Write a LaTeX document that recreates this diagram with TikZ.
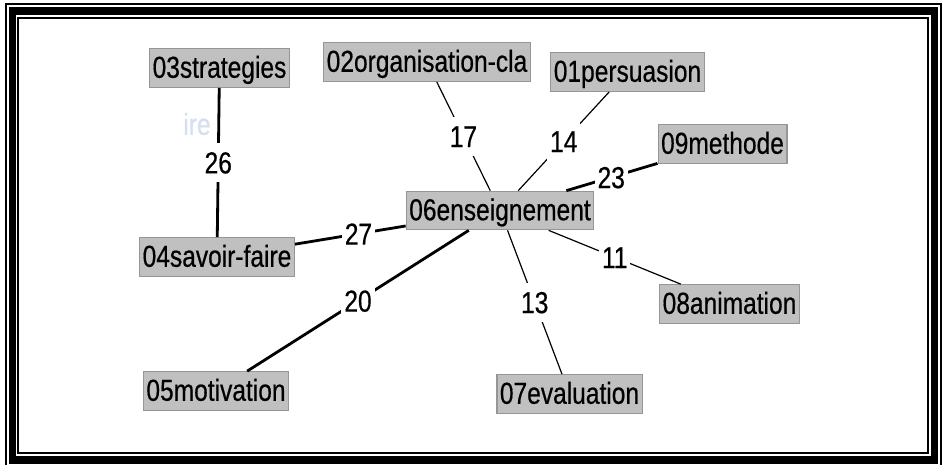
\documentclass[tikz,border=0pt]{standalone}
\usepackage{fontspec}
\newfontfamily\nodefont[FakeStretch=0.81,FakeBold=0.5]{Liberation Sans}
\usetikzlibrary{calc}
\definecolor{boxfill}{RGB}{192,192,192}
\definecolor{boxline}{RGB}{150,150,150}
\definecolor{ghost}{RGB}{212,224,240}
\begin{document}
\begin{tikzpicture}[x=1pt,y=-1pt,
  box/.style={draw=boxline, fill=boxfill, line width=1.2pt, inner xsep=3pt, inner ysep=3.5pt,
    text height=25.5pt, text depth=6pt, font=\nodefont\fontsize{30.3}{32}\selectfont},
  lbl/.style={fill=white, inner xsep=3pt, inner ysep=8.5pt, text height=21.7pt, text depth=0pt,
    font=\nodefont\fontsize{30.3}{32}\selectfont},
  thickedge/.style={draw=black, line width=2.8pt},
  thinedge/.style={draw=black, line width=1.2pt}]
\useasboundingbox (0,0) rectangle (943,464);
\begin{scope}
  \clip (0,0) rectangle (943,464);
  \fill[white] (0,0) rectangle (943,464);
  \draw[line width=2pt] (6,4) rectangle (941.3,490);
  \draw[line width=7.6pt] (12.3,10.8) rectangle (934.5,460);
  \draw[line width=2pt] (18,18.3) rectangle (927.8,452.8);
\end{scope}
% nodes
\node[box] (n03) at (219.5,68) {03strategies};
\node[box] (n02) at (427,62) {02organisation-cla};
\node[box] (n01) at (627.5,72) {01persuasion};
\node[box] (n09) at (722.5,144) {09methode};
\node[box] (n06) at (500,210.5) {06enseignement};
\node[box] (n04) at (217,257) {04savoir-faire};
\node[box] (n05) at (216,391) {05motivation};
\node[box] (n07) at (569.5,394) {07evaluation};
\node[box] (n08) at (729.5,304) {08animation};
\node[font=\nodefont\fontsize{30.3}{32}\selectfont, text=ghost] (ghosttxt) at (197,124) {ire};
% edges
\draw[thickedge] (n03) -- (n04);
\draw[thickedge] (n04) -- (n06);
\draw[thickedge] (n05) -- (n06);
\draw[thickedge] (n09) -- (n06);
\draw[thinedge] (n02) -- (n06);
\draw[thinedge] (n01) -- (n06);
\draw[thinedge] (n08) -- (n06);
\draw[thinedge] (n07) -- (n06);
% labels
\node[lbl] (l26) at ($(n03.center)!0.5!(n04.center)$) {26};
\node[lbl] (l27) at ($(n04.center)!0.5!(n06.center)$) {27};
\node[lbl] (l20) at ($(n05.center)!0.5!(n06.center)$) {20};
\node[lbl] (l23) at ($(n09.center)!0.5!(n06.center)$) {23};
\node[lbl] (l17) at ($(n02.center)!0.5!(n06.center)$) {17};
\node[lbl] (l14) at ($(n01.center)!0.5!(n06.center)$) {14};
\node[lbl] (l11) at ($(n08.center)!0.5!(n06.center)$) {11};
\node[lbl] (l13) at ($(n07.center)!0.5!(n06.center)$) {13};
\end{tikzpicture}
\end{document}
